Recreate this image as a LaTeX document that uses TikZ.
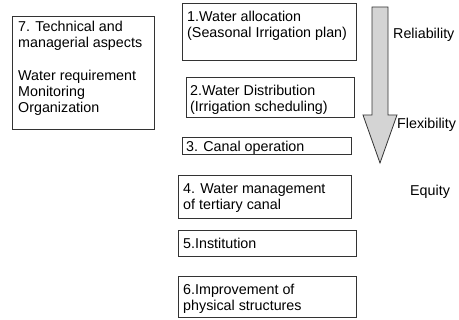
\documentclass[tikz,border=0pt]{standalone}
\usepackage{fontspec}
\setmainfont{Liberation Sans}
\begin{document}
\begin{tikzpicture}[x=1pt,y=-1pt,
  boxline/.style={draw=black!80, line width=0.8pt},
  txt/.style={inner sep=0pt, anchor=north west, align=left, font=\fontsize{14.3}{16.2}\selectfont},
  lbl/.style={inner sep=0pt, anchor=base west, font=\fontsize{14.3}{16.2}\selectfont}]
\useasboundingbox (0,0) rectangle (459,320);
% boxes
\draw[boxline] (12,16) rectangle (154,129);
\draw[boxline] (182,3) rectangle (356,60);
\draw[boxline] (186,77) rectangle (354,117);
\draw[boxline] (182,137) rectangle (351,154);
\draw[boxline] (178,175) rectangle (351,218);
\draw[boxline] (178,230) rectangle (356,256);
\draw[boxline] (178,276) rectangle (356,317);
% texts
\node[txt] (t7) at (18,21) {7. Technical and\\managerial aspects\\[16.2pt]Water requirement\\Monitoring\\Organization};
\node[txt] (t1) at (187,11) {1.Water allocation\\(Seasonal Irrigation plan)};
\node[txt] (t2) at (190,85) {2.Water Distribution\\(Irrigation scheduling)};
\node[lbl] (t3) at (186,152) {3. Canal operation};
\node[txt] (t4) at (183,183) {4. Water management\\of tertiary canal};
\node[lbl] (t5) at (183,249) {5.Institution};
\node[txt] (t6) at (183,284) {6.Improvement of\\physical structures};
% arrow
\draw[draw=black!80, fill=black!17, line width=0.8pt]
  (372,7) -- (388,7) -- (388,115) -- (397,115) -- (380,163)
  -- (363,115) -- (372,115) -- cycle;
\node[lbl] (rel) at (393,39) {Reliability};
\node[lbl] (flex) at (397,129) {Flexibility};
\node[lbl] (eq) at (410,196) {Equity};
\end{tikzpicture}
\end{document}
